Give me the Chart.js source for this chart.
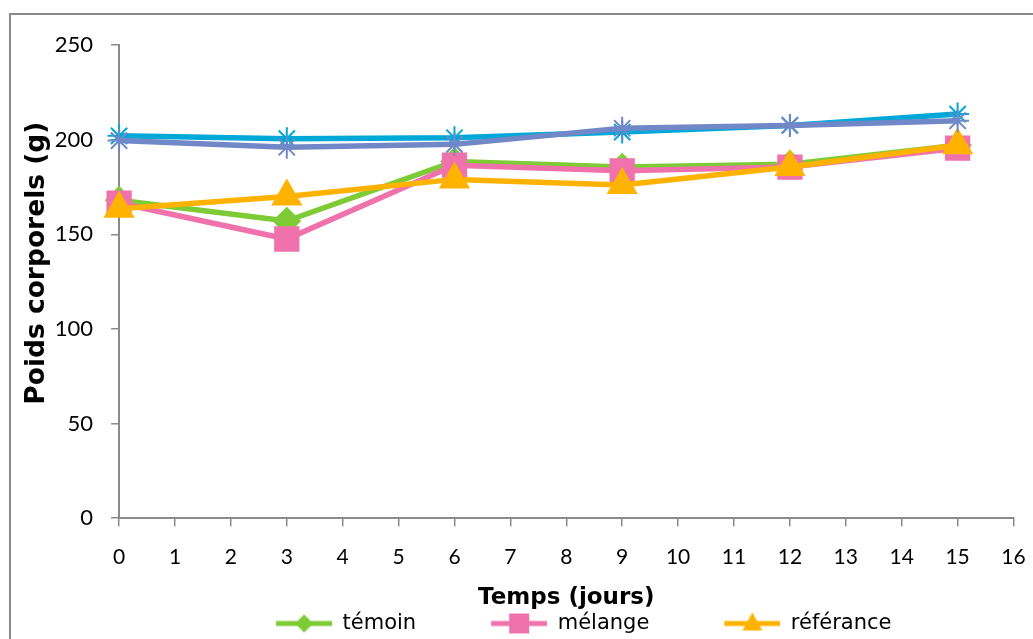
<!DOCTYPE html>
<html lang="fr">
<head>
    <meta charset="UTF-8">
    <title>Poids corporels</title>
    <script src="https://cdn.jsdelivr.net/npm/chart.js"></script>
    <style>
        html, body { margin: 0; padding: 0; background: #fff; overflow: hidden; }
        .frame { position: absolute; left: 9px; top: 13px; width: 1100px; height: 700px; border: 2px solid #898989; }
        #poidsChart { position: absolute; left: 0; top: 0; }
    </style>
</head>
<body>
    <div class="frame"></div>
    <canvas id="poidsChart" width="1033" height="639"></canvas>

    <script>
        // jours de mesure
        const jours = [0, 3, 6, 9, 12, 15];

        // poids corporels (g)
        const temoin = [168, 157, 188.5, 185.5, 187, 197];
        const melange = [166.5, 147.5, 186.5, 183.5, 185.5, 195.5];
        const referance = [163.5, 170, 179, 176, 185.5, 197];
        const serie4 = [202, 200.5, 201, 204, 207.5, 213.5];
        const serie5 = [199.5, 196, 197.5, 206, 207.5, 210];

        const yTicks = [0, 50, 100, 150, 200, 250];

        const toPoints = vals => vals.map((v, i) => ({ x: jours[i], y: v }));

        // petite icone "trait + marqueur" pour la legende (blanc a gauche = espacement)
        const legendGap = 35;
        function legendIcon(color, shape) {
            const w = legendGap + 56, h = 26;
            const c = document.createElement("canvas");
            c.width = w; c.height = h;
            const g = c.getContext("2d");
            const cx = legendGap + 28, cy = h / 2;
            g.strokeStyle = color; g.fillStyle = color; g.lineWidth = 5;
            g.beginPath(); g.moveTo(legendGap, cy); g.lineTo(w, cy); g.stroke();
            g.beginPath();
            if (shape === "diamond") {
                g.moveTo(cx, cy - 9); g.lineTo(cx + 9, cy); g.lineTo(cx, cy + 9); g.lineTo(cx - 9, cy);
            } else if (shape === "square") {
                g.rect(cx - 10, cy - 10, 20, 20);
            } else {
                g.moveTo(cx, cy - 11); g.lineTo(cx + 10, cy + 7); g.lineTo(cx - 10, cy + 7);
            }
            g.closePath(); g.fill();
            return c;
        }

        const icons = [
            legendIcon("#7DCB35", "diamond"),
            legendIcon("#F072AC", "square"),
            legendIcon("#FFB300", "triangle")
        ];

        const datasets = [
            { label: "témoin", data: toPoints(temoin), borderColor: "#7DCB35",
              pointStyle: "rectRot", pointRadius: 10.5, order: 5 },
            { label: "mélange", data: toPoints(melange), borderColor: "#F072AC",
              pointStyle: "rect", pointRadius: 14, order: 4 },
            { label: "référance", data: toPoints(referance), borderColor: "#FFB300",
              pointStyle: "triangle", pointRadius: 12.5, order: 3 },
            { label: "série 4", data: toPoints(serie4), borderColor: "#00A8D8",
              pointStyle: "star", pointRadius: 11.5, pointBorderWidth: 2, order: 2 },
            { label: "série 5", data: toPoints(serie5), borderColor: "#7088C8",
              pointStyle: "star", pointRadius: 11.5, pointBorderWidth: 2, order: 1 }
        ];
        datasets.forEach(ds => {
            ds.borderWidth = 5.5;
            ds.backgroundColor = ds.borderColor;
            ds.pointBorderColor = ds.borderColor;
            ds.pointBackgroundColor = ds.borderColor;
            ds.tension = 0;
            ds.clip = false;
        });

        const axisGrey = "#8A8A8A";

        new Chart(document.getElementById("poidsChart").getContext("2d"), {
            type: "line",
            data: { datasets: datasets },
            options: {
                responsive: false,
                devicePixelRatio: 1,
                animation: false,
                layout: { padding: { left: 0, right: 0, top: 45, bottom: -5 } },
                plugins: {
                    tooltip: { enabled: false },
                    legend: {
                        position: "bottom",
                        fullSize: false,
                        labels: {
                            usePointStyle: true,
                            pointStyleWidth: legendGap + 56,
                            padding: 40,
                            color: "#000",
                            font: { family: "DejaVu Sans", size: 21 },
                            generateLabels: chart => icons.map((icon, i) => ({
                                text: chart.data.datasets[i].label,
                                pointStyle: icon,
                                datasetIndex: i,
                                hidden: false,
                                lineWidth: 0,
                                fontColor: "#000"
                            }))
                        }
                    }
                },
                scales: {
                    x: {
                        type: "linear",
                        min: 0,
                        max: 16,
                        // the "16" label may run to the edge, like the original
                        afterFit: scale => { scale.paddingRight = 0; },
                        ticks: { stepSize: 1, color: "#000", padding: 18, font: { family: "Lato", size: 21 } },
                        grid: { drawOnChartArea: false, drawTicks: true, tickLength: 8, color: axisGrey, lineWidth: 1.5 },
                        border: { color: axisGrey, width: 2 },
                        title: {
                            display: true,
                            text: "Temps (jours)",
                            color: "#000",
                            font: { family: "DejaVu Sans", size: 23, weight: "bold" },
                            padding: { top: -3, bottom: -39 }
                        }
                    },
                    y: {
                        min: 0,
                        max: 250,
                        afterBuildTicks: scale => { scale.ticks = yTicks.map(v => ({ value: v })); },
                        ticks: { color: "#000", padding: 18, font: { family: "Lato", size: 22 } },
                        grid: { drawOnChartArea: false, drawTicks: true, tickLength: 8, color: axisGrey, lineWidth: 1.5 },
                        border: { color: axisGrey, width: 2 },
                        title: {
                            display: true,
                            text: "    Poids corporels (g)",
                            color: "#000",
                            font: { family: "DejaVu Sans", size: 26.5, weight: "bold" },
                            padding: { top: 21, bottom: -16 }
                        }
                    }
                }
            }
        });
    </script>
</body>
</html>
